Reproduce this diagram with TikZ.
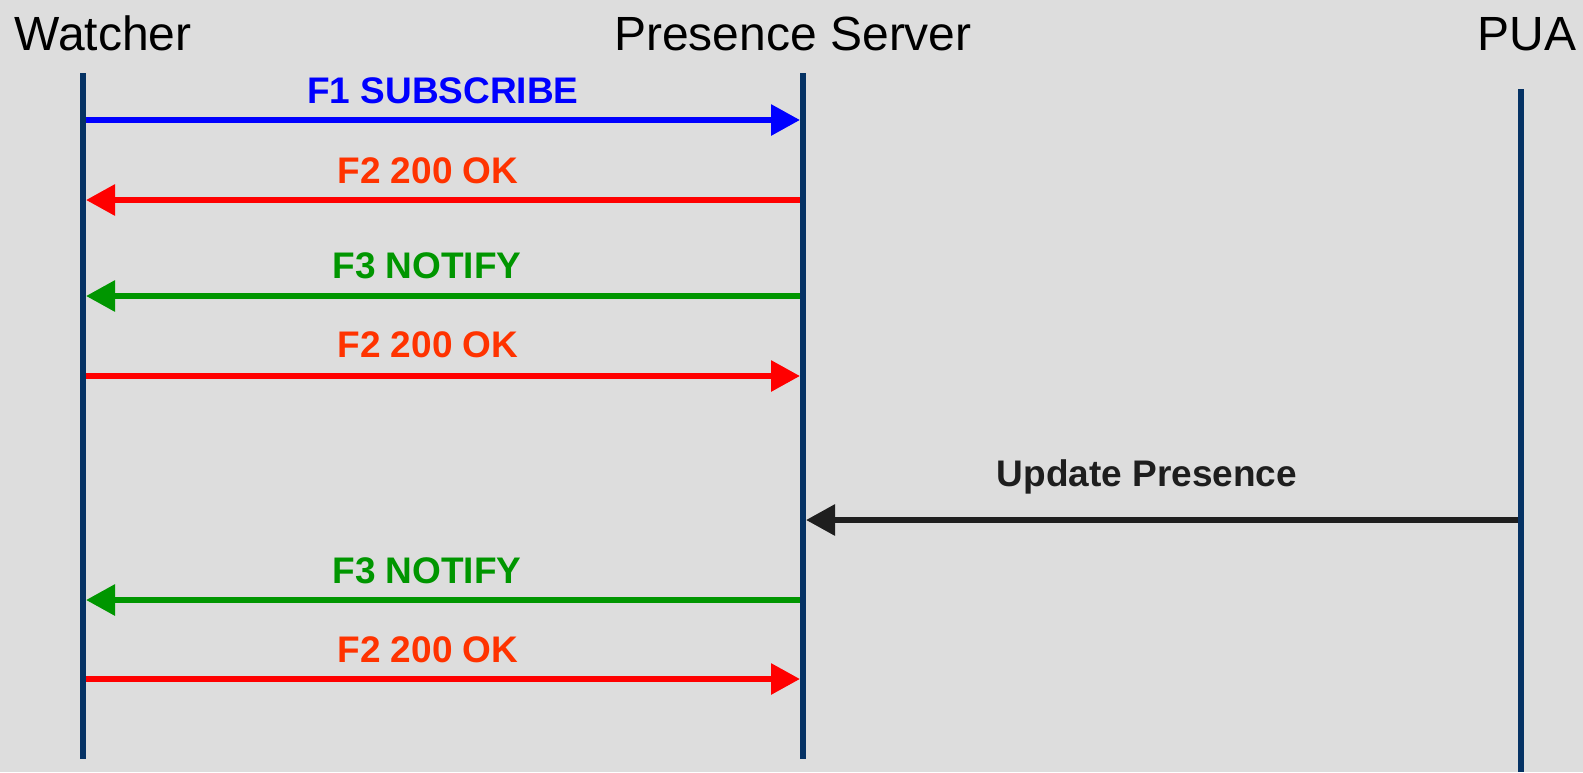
\documentclass[tikz,border=0pt]{standalone}
\usepackage{fontspec}
\setmainfont{Liberation Sans}
\usetikzlibrary{arrows.meta}
\definecolor{bg}{HTML}{DDDDDD}
\definecolor{lifeblue}{RGB}{5,50,100}
\definecolor{subblue}{RGB}{0,0,255}
\definecolor{okred}{RGB}{255,0,0}
\definecolor{oktext}{RGB}{255,51,0}
\definecolor{notgreen}{RGB}{0,150,0}
\definecolor{updblack}{RGB}{30,30,30}
\begin{document}
\begin{tikzpicture}[x=1pt,y=-1pt,
  lifeline/.style={draw=lifeblue,line width=6pt},
  title/.style={anchor=base,inner sep=0pt,font=\fontsize{48}{52}\selectfont,text=black},
  msglabel/.style={anchor=base,inner sep=0pt,font=\fontsize{37}{40}\selectfont\bfseries},
  msg/.style={line width=6pt,-{Triangle[length=29pt,width=30pt]},shorten >=3pt,shorten <=3pt}]
  % canvas
  \fill[bg] (0,0) rectangle (1583,772);
  \useasboundingbox (0,0) rectangle (1583,772);

  % participants
  \node[title] (tw) at (103,50) {Watcher};
  \node[title] (ts) at (793,50) {Presence Server};
  \node[title] (tp) at (1527,50) {PUA};

  % lifelines
  \coordinate (W) at (83,73);
  \coordinate (Wend) at (83,759);
  \coordinate (S) at (803,73);
  \coordinate (Send) at (803,759);
  \coordinate (P) at (1521,89);
  \coordinate (Pend) at (1521,772);
  \draw[lifeline] (W) -- (Wend);
  \draw[lifeline] (S) -- (Send);
  \draw[lifeline] (P) -- (Pend);

  % message rows
  \coordinate (r1) at (0,120);
  \coordinate (r2) at (0,200);
  \coordinate (r3) at (0,296);
  \coordinate (r4) at (0,376);
  \coordinate (r5) at (0,520);
  \coordinate (r6) at (0,600);
  \coordinate (r7) at (0,679);

  \draw[msg,subblue] (W |- r1) -- (S |- r1);
  \node[msglabel,text=subblue] (l1) at (443,103) {F1 SUBSCRIBE};

  \draw[msg,okred] (S |- r2) -- (W |- r2);
  \node[msglabel,text=oktext] (l2) at (428,183) {F2 200 OK};

  \draw[msg,notgreen] (S |- r3) -- (W |- r3);
  \node[msglabel,text=notgreen] (l3) at (427,278) {F3 NOTIFY};

  \draw[msg,okred] (W |- r4) -- (S |- r4);
  \node[msglabel,text=oktext] (l4) at (428,357) {F2 200 OK};

  \draw[msg,updblack] (P |- r5) -- (S |- r5);
  \node[msglabel,text=updblack] (l5) at (1147,486) {Update Presence};

  \draw[msg,notgreen] (S |- r6) -- (W |- r6);
  \node[msglabel,text=notgreen] (l6) at (427,583) {F3 NOTIFY};

  \draw[msg,okred] (W |- r7) -- (S |- r7);
  \node[msglabel,text=oktext] (l7) at (428,662) {F2 200 OK};
\end{tikzpicture}
\end{document}
